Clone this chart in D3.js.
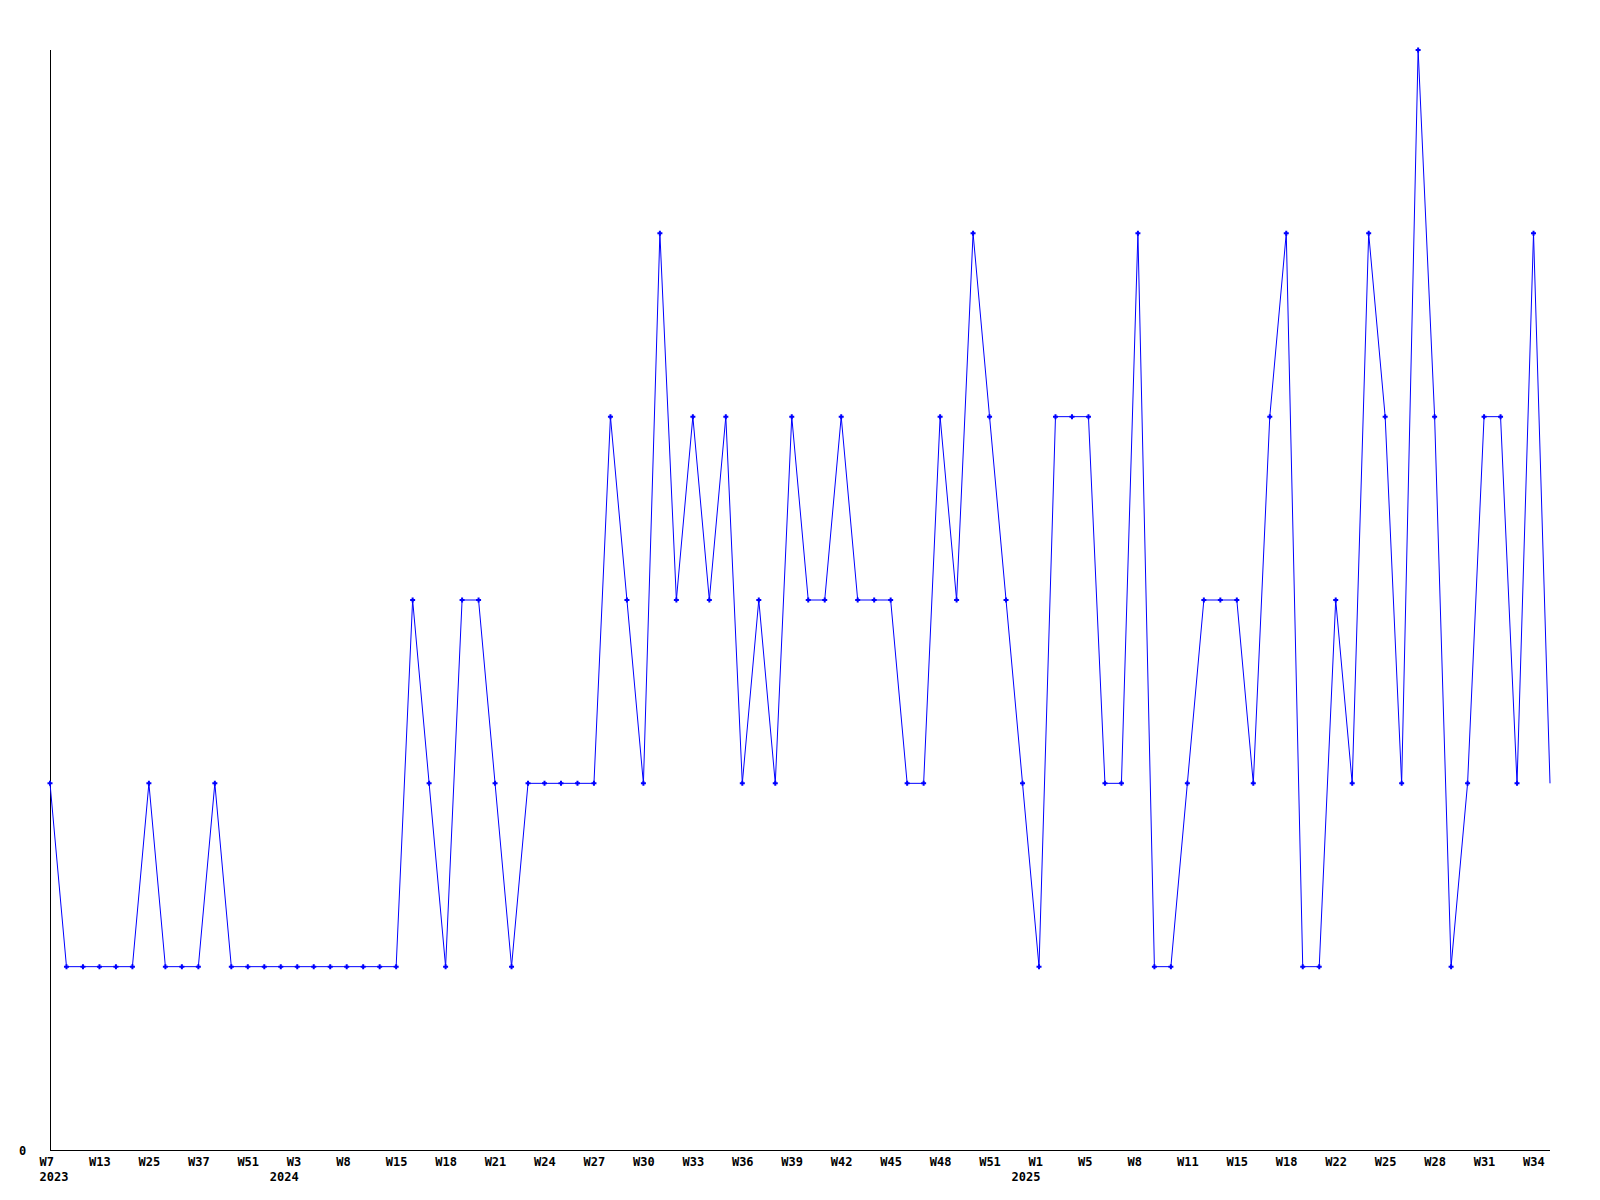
<!DOCTYPE html>
<html>
<head>
<meta charset="utf-8">
<script src="https://cdn.jsdelivr.net/npm/d3@7"></script>
<style>
  html, body { margin: 0; padding: 0; background: #ffffff; }
  svg { display: block; }
  text { font-family: "DejaVu Sans Mono", "Liberation Mono", monospace; font-weight: bold; font-size: 12px; fill: #000; }
</style>
</head>
<body>
<svg id="chart" width="1600" height="1200"></svg>
<script>
// weekly values, one per point (index 0 = W7 2023)
const values = [
  2, 1, 1, 1, 1, 1, 2, 1, 1, 1,
  2, 1, 1, 1, 1, 1, 1, 1, 1, 1,
  1, 1, 3, 2, 1, 3, 3, 2, 1, 2,
  2, 2, 2, 2, 4, 3, 2, 5, 3, 4,
  3, 4, 2, 3, 2, 4, 3, 3, 4, 3,
  3, 3, 2, 2, 4, 3, 5, 4, 3, 2,
  1, 4, 4, 4, 2, 2, 5, 1, 1, 2,
  3, 3, 3, 2, 4, 5, 1, 1, 3, 2,
  5, 4, 2, 6, 4, 1, 2, 4, 4, 2,
  5, 2
];
// x tick labels, one every 3rd point
const tickLabels = ["W7","W13","W25","W37","W51","W3","W8","W15","W18","W21",
  "W24","W27","W30","W33","W36","W39","W42","W45","W48","W51",
  "W1","W5","W8","W11","W15","W18","W22","W25","W28","W31","W34"];
const tickStep = 3;
// year labels and the point index they sit under
const yearLabels = ["2023", "2024", "2025"];
const yearIndex = [0, 15, 60];
const yTickValues = [0];

const svg = d3.select("#chart");
const mLeft = 50, mRight = 1550, mTop = 50, mBottom = 1150;

const idx = values.map((d, i) => i);
const x = d3.scalePoint().domain(idx).range([mLeft, mRight]);
const y = d3.scaleLinear().domain([0, d3.max(values)]).range([mBottom, mTop]);

// axes lines
svg.append("line").attr("x1", mLeft + 0.5).attr("x2", mLeft + 0.5)
  .attr("y1", mTop).attr("y2", mBottom + 0.5).attr("stroke", "#000").attr("stroke-width", 1);
svg.append("line").attr("x1", mLeft).attr("x2", mRight)
  .attr("y1", mBottom + 0.5).attr("y2", mBottom + 0.5).attr("stroke", "#000").attr("stroke-width", 1);

// y tick label
svg.selectAll("text.ylab").data(yTickValues).join("text")
  .attr("class", "ylab")
  .attr("x", 19)
  .attr("y", d => y(d) + 5)
  .text(d => d);

// x tick labels
const tickIdx = tickLabels.map((d, i) => i * tickStep);
svg.selectAll("text.xlab").data(tickIdx).join("text")
  .attr("class", "xlab")
  .attr("x", d => x(d) - 10.4)
  .attr("y", 1166)
  .text((d, i) => tickLabels[i]);

svg.selectAll("text.yearlab").data(yearIndex).join("text")
  .attr("class", "yearlab")
  .attr("x", d => Math.max(x(d) - 27.5, 39.6))
  .attr("y", 1181)
  .text((d, i) => yearLabels[i]);

// line
const line = d3.line().x((d, i) => x(i)).y(d => y(d));
svg.append("path").datum(values)
  .attr("d", line)
  .attr("fill", "none")
  .attr("stroke", "#0000ff")
  .attr("stroke-width", 1);

// markers (last point has none)
const marked = values.slice(0, values.length - 1);
svg.selectAll("path.mk").data(marked).join("path")
  .attr("class", "mk")
  .attr("d", (d, i) => {
    const cx = x(i), cy = y(d);
    return `M${cx - 2.5},${cy}h5M${cx},${cy - 2.5}v5`;
  })
  .attr("stroke", "#0000ff")
  .attr("stroke-width", 2)
  .attr("fill", "none");
</script>
</body>
</html>
